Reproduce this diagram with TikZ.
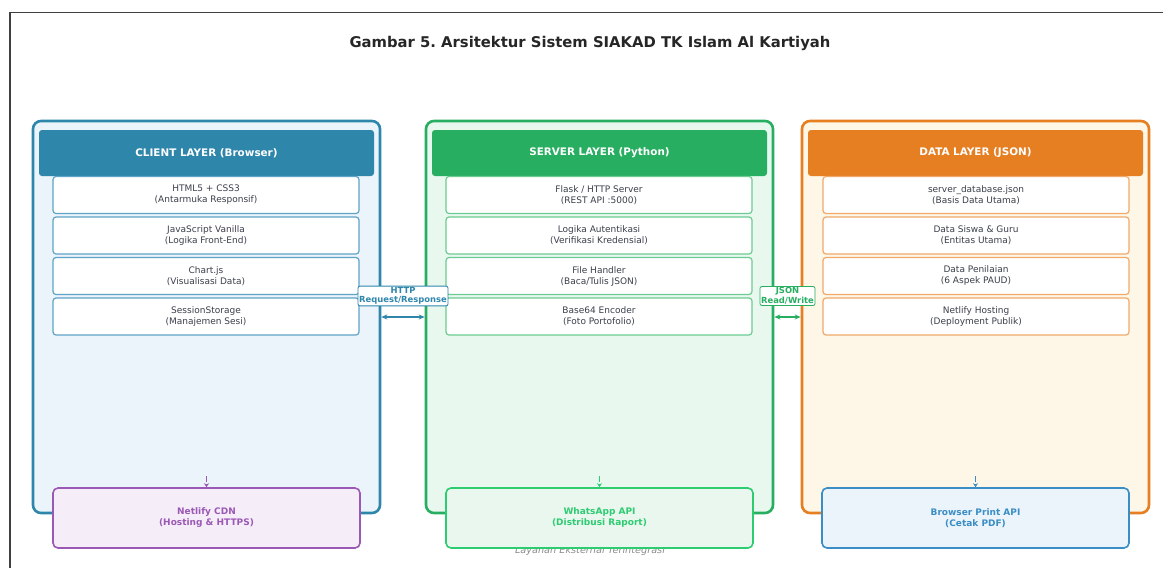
\documentclass[tikz,border=0pt]{standalone}
\usepackage{fontspec}
\setmainfont{DejaVu Sans}
\usepackage{tikz}
\usetikzlibrary{arrows.meta}
\frenchspacing

\definecolor{clientc}{HTML}{2E86AB}
\definecolor{clientbg}{HTML}{EBF4FA}
\definecolor{clientln}{HTML}{5FA3C6}
\definecolor{serverc}{HTML}{27AE60}
\definecolor{serverbg}{HTML}{E9F8EF}
\definecolor{serverln}{HTML}{6CCB91}
\definecolor{datac}{HTML}{E67E22}
\definecolor{databg}{HTML}{FEF6E6}
\definecolor{dataln}{HTML}{F0A96A}
\definecolor{cdnc}{HTML}{9B59B6}
\definecolor{cdnbg}{HTML}{F5EDF8}
\definecolor{wac}{HTML}{2ECC71}
\definecolor{wabg}{HTML}{EAF7EF}
\definecolor{prnc}{HTML}{3A8DC5}
\definecolor{prnbg}{HTML}{EBF4FB}
\definecolor{inktxt}{HTML}{3A3F4A}

\begin{document}
\begin{tikzpicture}[x=1pt, y=-1pt,
    layer/.style={draw=#1, line width=2.6pt, rounded corners=8pt,
      minimum width=347pt, minimum height=392pt},
    head/.style={fill=#1, rounded corners=3pt, text=white,
      minimum width=335pt, minimum height=46pt,
      font=\fontsize{10.4}{12}\selectfont\bfseries},
    item/.style={draw=#1, line width=1.2pt, fill=white, rounded corners=3pt,
      minimum width=306pt, minimum height=37pt, align=center, text=inktxt,
      font=\fontsize{9}{11}\selectfont},
    extbox/.style={draw=#1, line width=1.6pt, rounded corners=5pt, text=#1,
      minimum width=307pt, minimum height=60pt, align=center,
      font=\fontsize{9}{11}\selectfont\bfseries},
    tag/.style={draw=#1, line width=0.8pt, fill=white, rounded corners=2pt,
      text=#1, align=center, inner sep=1.2pt,
      font=\fontsize{8.4}{9.5}\selectfont\bfseries},
    link/.style={{Stealth[length=6pt,width=5pt]}-{Stealth[length=6pt,width=5pt]},
      draw=#1, line width=1.6pt},
    feed/.style={-{Stealth[length=4pt,width=5pt]}, draw=#1, line width=1.6pt,
      dash pattern=on 6pt off 2pt}]
  \useasboundingbox (0,0) rectangle (1163,568);
  % page frame
  \draw[line width=1.4pt, black!75] (10,568) -- (10,12.5) -- (1163,12.5);

  \node[text=black!85, font=\fontsize{14.8}{17}\selectfont\bfseries] (title)
      at (590,43) {Gambar 5. Arsitektur Sistem SIAKAD TK Islam Al Kartiyah};

  % the three layers
  \node[layer=clientc, fill=clientbg] (client) at (206.5,317) {};
  \node[layer=serverc, fill=serverbg] (server) at (599.5,317) {};
  \node[layer=datac,   fill=databg]   (data)   at (975.5,317) {};

  \node[head=clientc] (clienthd) at (206.5,153) {CLIENT LAYER (Browser)};
  \node[head=serverc] (serverhd) at (599.5,153) {SERVER LAYER (Python)};
  \node[head=datac]   (datahd)   at (975.5,153) {DATA LAYER (JSON)};

  % client components
  \node[item=clientln] (c1) at (206,195)   {HTML5 + CSS3\\(Antarmuka Responsif)};
  \node[item=clientln] (c2) at (206,235.5) {JavaScript Vanilla\\(Logika Front-End)};
  \node[item=clientln] (c3) at (206,276)   {Chart.js\\(Visualisasi Data)};
  \node[item=clientln] (c4) at (206,316.5) {SessionStorage\\(Manajemen Sesi)};

  % server components
  \node[item=serverln] (s1) at (599,195)   {Flask / HTTP Server\\(REST API :5000)};
  \node[item=serverln] (s2) at (599,235.5) {Logika Autentikasi\\(Verifikasi Kredensial)};
  \node[item=serverln] (s3) at (599,276)   {File Handler\\(Baca/Tulis JSON)};
  \node[item=serverln] (s4) at (599,316.5) {Base64 Encoder\\(Foto Portofolio)};

  % data components
  \node[item=dataln] (d1) at (976,195)   {server\_database.json\\(Basis Data Utama)};
  \node[item=dataln] (d2) at (976,235.5) {Data Siswa \& Guru\\(Entitas Utama)};
  \node[item=dataln] (d3) at (976,276)   {Data Penilaian\\(6 Aspek PAUD)};
  \node[item=dataln] (d4) at (976,316.5) {Netlify Hosting\\(Deployment Publik)};

  % links between layers
  \draw[link=clientc] (client.east) -- (server.west);
  \draw[link=serverc] (server.east) -- (data.west);
  \node[tag=clientc] (httptag) at (403,296) {HTTP\\Request/Response};
  \node[tag=serverc] (jsontag) at (787.5,296) {JSON\\Read/Write};

  % external services
  \node[text=black!45, font=\fontsize{9.7}{11}\selectfont\itshape] (extcap)
      at (590,551) {Layanan Eksternal Terintegrasi};
  \node[extbox=cdnc, fill=cdnbg] (cdn)   at (206.5,518) {Netlify CDN\\(Hosting \& HTTPS)};
  \node[extbox=wac,  fill=wabg]  (wa)    at (599.5,518) {WhatsApp API\\(Distribusi Raport)};
  \node[extbox=prnc, fill=prnbg] (print) at (975.5,518) {Browser Print API\\(Cetak PDF)};

  \coordinate (cdnin)   at (206.5,476);
  \coordinate (wain)    at (599.5,476);
  \coordinate (printin) at (975.5,476);
  \draw[feed=cdnc] (cdnin) -- (cdn.north);
  \draw[feed=wac]  (wain) -- (wa.north);
  \draw[feed=prnc] (printin) -- (print.north);
\end{tikzpicture}
\end{document}
